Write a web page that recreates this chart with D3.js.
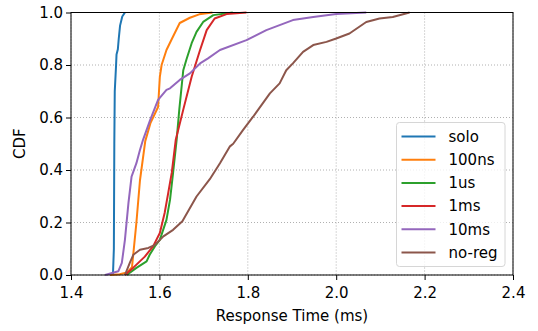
<!DOCTYPE html>
<html>
<head>
<meta charset="utf-8">
<script src="https://cdn.jsdelivr.net/npm/d3@7"></script>
<style>
  body { margin: 0; background: #fff; }
  svg { font-family: "DejaVu Sans", sans-serif; }
</style>
</head>
<body>
<svg width="538" height="331"></svg>
<script>
// CDF samples: [response time (ms), cumulative fraction]
const solo = [[1.488,0],[1.495,0.005],[1.497,0.1],[1.498,0.5],[1.499,0.7],[1.502,0.8],[1.503,0.84],[1.506,0.86],[1.508,0.9],[1.511,0.95],[1.516,0.985],[1.522,1.0]];
const ns100 = [[1.488,0],[1.51,0.003],[1.527,0.01],[1.538,0.03],[1.548,0.2],[1.556,0.36],[1.568,0.51],[1.58,0.58],[1.597,0.64],[1.601,0.755],[1.605,0.8],[1.616,0.857],[1.627,0.895],[1.646,0.96],[1.669,0.98],[1.69,0.993],[1.72,1.0]];
const us1 = [[1.526,0],[1.548,0.027],[1.571,0.052],[1.578,0.077],[1.59,0.11],[1.601,0.134],[1.616,0.21],[1.624,0.286],[1.631,0.39],[1.639,0.515],[1.645,0.63],[1.654,0.78],[1.661,0.82],[1.673,0.883],[1.684,0.926],[1.699,0.964],[1.722,0.99],[1.766,1.0]];
const ms1 = [[1.522,0],[1.541,0.028],[1.567,0.07],[1.586,0.11],[1.601,0.16],[1.612,0.237],[1.62,0.313],[1.628,0.39],[1.637,0.515],[1.654,0.63],[1.673,0.755],[1.692,0.857],[1.707,0.933],[1.725,0.977],[1.752,0.994],[1.797,1.0]];
const ms10 = [[1.477,0],[1.507,0.014],[1.515,0.046],[1.522,0.134],[1.53,0.275],[1.537,0.375],[1.548,0.426],[1.556,0.476],[1.563,0.515],[1.579,0.59],[1.597,0.667],[1.616,0.705],[1.624,0.711],[1.646,0.743],[1.669,0.768],[1.692,0.806],[1.71,0.825],[1.737,0.857],[1.797,0.895],[1.842,0.933],[1.872,0.952],[1.902,0.971],[1.948,0.983],[2.0,0.994],[2.068,1.0]];
const noreg = [[1.522,0],[1.533,0.046],[1.541,0.077],[1.556,0.096],[1.575,0.103],[1.59,0.115],[1.609,0.147],[1.631,0.172],[1.652,0.205],[1.684,0.299],[1.714,0.365],[1.737,0.426],[1.759,0.489],[1.767,0.5],[1.789,0.552],[1.812,0.603],[1.85,0.692],[1.872,0.73],[1.887,0.78],[1.902,0.806],[1.925,0.85],[1.948,0.876],[1.978,0.888],[2.0,0.901],[2.03,0.92],[2.068,0.964],[2.098,0.977],[2.128,0.983],[2.166,1.0]];

const seriesNames = ['solo', '100ns', '1us', '1ms', '10ms', 'no-reg'];
const seriesData = [solo, ns100, us1, ms1, ms10, noreg];
const colors = ['#1f77b4', '#ff7f0e', '#2ca02c', '#d62728', '#9467bd', '#8c564b'];
const xTicks = [1.4, 1.6, 1.8, 2.0, 2.2, 2.4];
const yTicks = [0, 0.2, 0.4, 0.6, 0.8, 1.0];

const margin = { top: 12.5, right: 25, bottom: 56, left: 71 };
const width = 538 - margin.left - margin.right;
const height = 331 - margin.top - margin.bottom;
const fs = 15;

const svg = d3.select('svg');
const g = svg.append('g').attr('transform', `translate(${margin.left},${margin.top})`);

const x = d3.scaleLinear().domain([1.4, 2.4]).range([0, width]);
const y = d3.scaleLinear().domain([0, 1]).range([height, 0]);

// grid
g.append('g').selectAll('line').data(xTicks).enter().append('line')
  .attr('x1', d => x(d)).attr('x2', d => x(d)).attr('y1', 0).attr('y2', height)
  .attr('stroke', '#b0b0b0').attr('stroke-width', 1).attr('stroke-dasharray', '1,2');
g.append('g').selectAll('line').data(yTicks).enter().append('line')
  .attr('y1', d => y(d)).attr('y2', d => y(d)).attr('x1', 0).attr('x2', width)
  .attr('stroke', '#b0b0b0').attr('stroke-width', 1).attr('stroke-dasharray', '1,2');

// curves
const line = d3.line().x(d => x(d[0])).y(d => y(d[1]));
g.append('g').selectAll('path').data(seriesData).enter().append('path')
  .attr('d', line)
  .attr('fill', 'none')
  .attr('stroke', (d, i) => colors[i])
  .attr('stroke-width', 2)
  .attr('stroke-linejoin', 'round');

// axes
const xAxis = g.append('g').attr('transform', `translate(0,${height})`)
  .call(d3.axisBottom(x).tickValues(xTicks).tickFormat(d3.format('.1f')).tickSize(5).tickSizeOuter(0));
const yAxis = g.append('g')
  .call(d3.axisLeft(y).tickValues(yTicks).tickFormat(d3.format('.1f')).tickSize(5).tickSizeOuter(0));
[xAxis, yAxis].forEach(a => {
  a.selectAll('text').attr('font-size', fs).attr('fill', '#000').attr('font-family', 'DejaVu Sans');
  a.selectAll('line').attr('stroke', '#000').attr('stroke-width', 1);
  a.select('.domain').remove();
});
xAxis.selectAll('text').attr('dy', '1.0em');

// frame
g.append('rect').attr('width', width).attr('height', height)
  .attr('fill', 'none').attr('stroke', '#000').attr('stroke-width', 1);

// labels
svg.append('text').attr('x', margin.left + width / 2).attr('y', 321)
  .attr('text-anchor', 'middle').attr('font-size', fs).text('Response Time (ms)');
svg.append('text').attr('transform', `translate(25,${margin.top + height / 2}) rotate(-90)`)
  .attr('text-anchor', 'middle').attr('font-size', fs).text('CDF');

// legend
const lg = svg.append('g').attr('transform', 'translate(396.5,122.5)');
lg.append('rect').attr('width', 108.5).attr('height', 144).attr('rx', 3)
  .attr('fill', '#fff').attr('fill-opacity', 0.8).attr('stroke', '#d6d6d6');
const items = lg.selectAll('g').data(seriesNames).enter().append('g')
  .attr('transform', (d, i) => `translate(0,${14 + i * 23.2})`);
items.append('line').attr('x1', 5).attr('x2', 39).attr('y1', 0).attr('y2', 0)
  .attr('stroke', (d, i) => colors[i]).attr('stroke-width', 2);
items.append('text').attr('x', 52).attr('dy', '0.35em').attr('font-size', fs).text(d => d);
</script>
</body>
</html>
